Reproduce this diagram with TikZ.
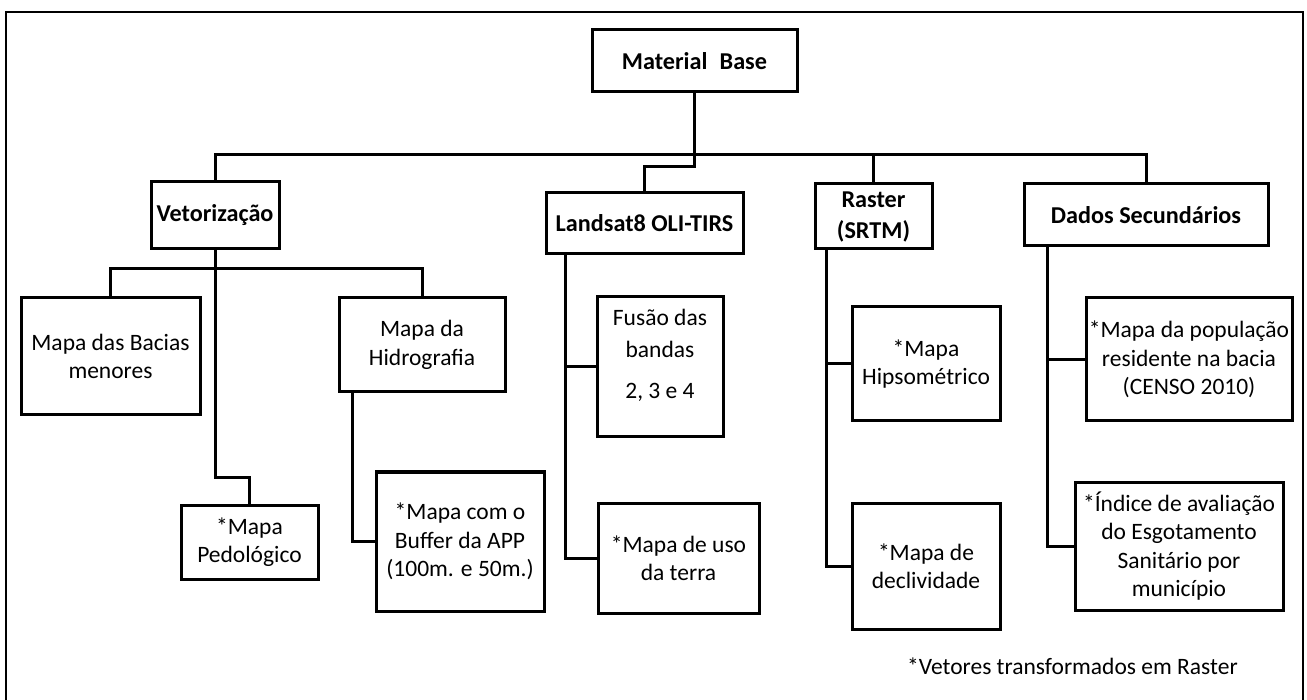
\documentclass[tikz,border=0pt]{standalone}
\usepackage{fontspec}
\setmainfont{Carlito}
\usetikzlibrary{calc}
\tikzset{
  box/.style={draw=black, line width=3pt, inner sep=0pt, align=center, fill=white},
  hd/.style={font=\bfseries\fontsize{24.2}{31}\selectfont},
  conn/.style={draw=black, line width=3pt},
  frame/.style={draw=black, line width=2pt},
}
\begin{document}
\begin{tikzpicture}[x=1pt,y=-1pt, every node/.style={font=\fontsize{23.5}{28.5}\selectfont}]
\useasboundingbox (0,0) rectangle (1307,700);
\fill[white] (0,0) rectangle (1307,700);
\draw[frame] (6,700) -- (6,12) -- (1303,12) -- (1303,700);

% top level
\node[box,hd,minimum width=205pt,minimum height=62pt] (mb) at (694.5,61) {Material\hspace{0.5em}Base};
\node[box,hd,minimum width=128pt,minimum height=67pt] (vet) at (215,215.5) {Vetorização};
\node[box,hd,minimum width=197pt,minimum height=61pt] (lan) at (644.5,223.5) {Landsat8 OLI-TIRS};
\node[box,hd,minimum width=117pt,minimum height=65pt] (ras) at (873.5,216.5) {Raster\\(SRTM)};
\node[box,hd,minimum width=244pt,minimum height=62pt] (dad) at (1146,215) {Dados Secundários};

% second level
\node[box,minimum width=179pt,minimum height=117pt] (bac) at (110.5,356.5) {Mapa das Bacias\\menores};
\node[box,minimum width=166pt,minimum height=94pt] (hid) at (422,345) {Mapa da\\Hidrografia};
\node[box,minimum width=137pt,minimum height=74pt] (ped) at (249.5,542) {*Mapa\\Pedológico};
\node[box,minimum width=168pt,minimum height=139pt] (buf) at (460,541.5) {*Mapa com o\\Buffer da APP\\(100m. e 50m.)};
\node[box,minimum width=126pt,minimum height=140pt,
      label={[align=center,yshift=11.5pt,font=\fontsize{23.5}{28.5}\selectfont]center:{Fusão das\\[3pt]bandas\\[12.5pt]2, 3 e 4}}] (fus) at (660,367) {};
\node[box,minimum width=161pt,minimum height=110pt] (uso) at (678.5,558) {*Mapa de uso\\da terra};
\node[box,minimum width=148pt,minimum height=114pt] (hip) at (926,364) {*Mapa\\Hipsométrico};
\node[box,minimum width=148pt,minimum height=126pt] (dec) at (926,566) {*Mapa de\\declividade};
\node[box,minimum width=206pt,minimum height=123pt] (pop) at (1189,359.5) {*Mapa da população\\residente na bacia\\(CENSO 2010)};
\node[box,minimum width=208pt,minimum height=128pt] (ind) at (1179,546) {*Índice de avaliação\\do Esgotamento\\Sanitário por\\município};

\node[anchor=west,inner sep=0pt] (nota) at (907,666) {*Vetores transformados em Raster};

% connectors
\coordinate (j0) at (694.5,155);
\coordinate (j1) at (215,269);
\draw[conn] (mb.south) -- (j0);
\draw[conn] (vet.north) -- (vet.north |- j0) -- (dad.north |- j0) -- (dad.north);
\draw[conn] (ras.north |- j0) -- (ras.north);
\draw[conn] (j0) -- ++(0,12) -| (lan.north);

\draw[conn] (vet.south) -- (j1);
\draw[conn] (bac.north) -- (bac.north |- j1) -- (hid.north |- j1) -- (hid.north);
\draw[conn] (j1) -- ++(0,208) -| (ped.north);

\coordinate (hx) at ($(hid.south west)+(15,0)$);
\draw[conn] (hx) |- (buf.west);

\coordinate (lx) at ($(lan.south west)+(21,0)$);
\draw[conn] (lx) |- (uso.west);
\draw[conn] (fus.west) -- (fus.west -| lx);

\coordinate (rx) at ($(ras.south west)+(13,0)$);
\draw[conn] (rx) |- (dec.west);
\draw[conn] (hip.west) -- (hip.west -| rx);

\coordinate (dx) at ($(dad.south west)+(25,0)$);
\draw[conn] (dx) |- (ind.west);
\draw[conn] (pop.west) -- (pop.west -| dx);
\end{tikzpicture}
\end{document}
